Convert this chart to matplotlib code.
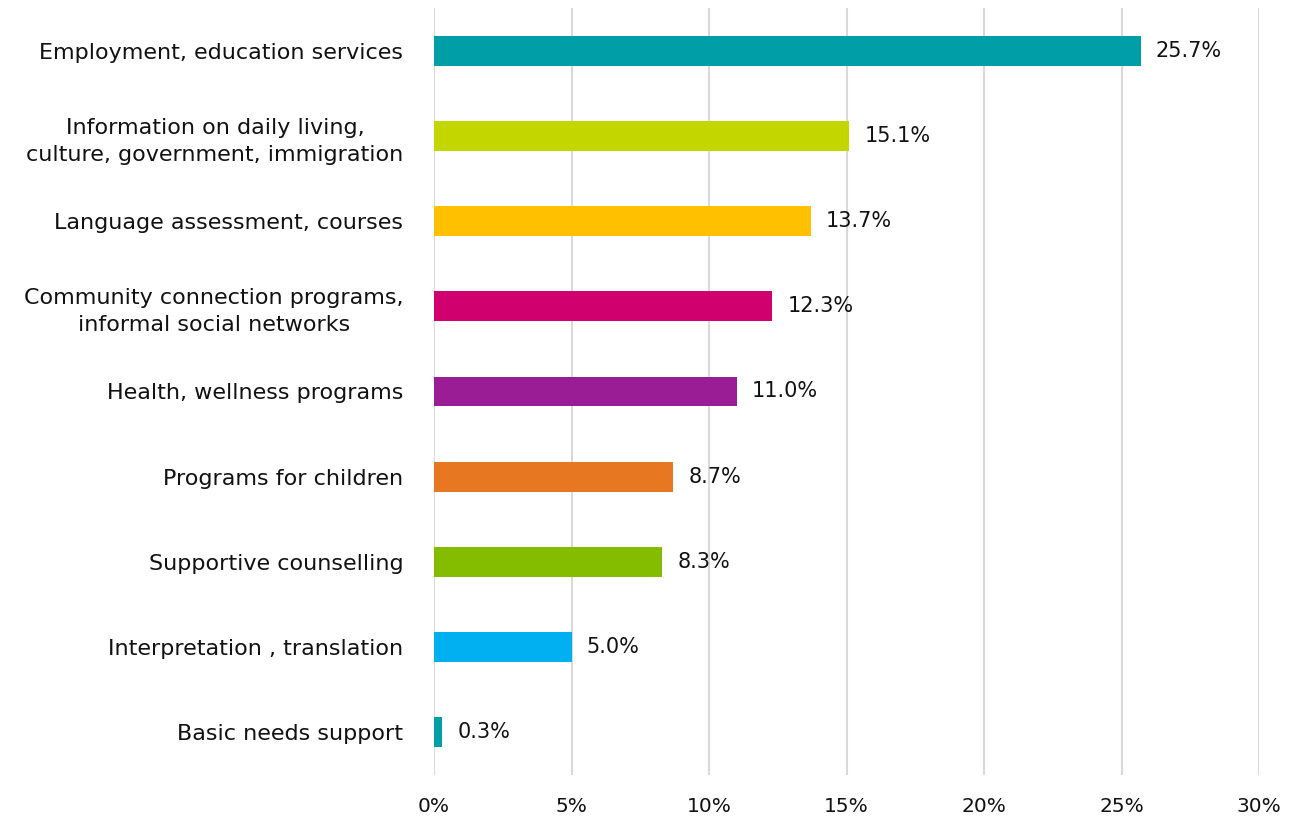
import matplotlib
matplotlib.use("Agg")
import matplotlib.pyplot as plt
from matplotlib.ticker import FuncFormatter

categories = [
    "Employment, education services",
    "Information on daily living,\nculture, government, immigration",
    "Language assessment, courses",
    "Community connection programs,\ninformal social networks",
    "Health, wellness programs",
    "Programs for children",
    "Supportive counselling",
    "Interpretation , translation",
    "Basic needs support",
]
values = [25.7, 15.1, 13.7, 12.3, 11.0, 8.7, 8.3, 5.0, 0.3]
colors = ["#009FA8", "#C4D600", "#FFC000", "#D0006F", "#9B1D96",
          "#E87722", "#84BD00", "#00B0F0", "#009FA8"]
xticks = [0, 5, 10, 15, 20, 25, 30]

plt.rcParams['font.family'] = ['DejaVu Sans']
fig = plt.figure(figsize=(12.97, 8.19), dpi=100)
ax = fig.add_axes([434/1297, 1-775/819, (1259-434)/1297, (775-8)/819])

y = list(range(len(categories)))
ax.barh(y, values, height=0.35, color=colors, zorder=3)
for yi, v in zip(y, values):
    ax.text(v + 0.55, yi, f"{v:.1f}%", va="center", ha="left", fontsize=15, color="#111111")

ax.set_yticks(y)
ax.set_yticklabels(categories, fontsize=16, color="#111111", ha="right",
                   multialignment="center", linespacing=1.45)
ax.set_ylim(len(categories) - 0.5, -0.5)
ax.set_xlim(0, 30)
ax.set_xticks(xticks)
ax.xaxis.set_major_formatter(FuncFormatter(lambda v, p: f"{v:.0f}%"))
ax.tick_params(axis="x", labelsize=14.5, colors="#111111", length=0, pad=16)
ax.tick_params(axis="y", length=0, pad=22)
ax.grid(axis="x", color="#D9D9D9", linewidth=1.5, zorder=0)
for s in ax.spines.values():
    s.set_visible(False)

fig.savefig("out.png", dpi=100)
